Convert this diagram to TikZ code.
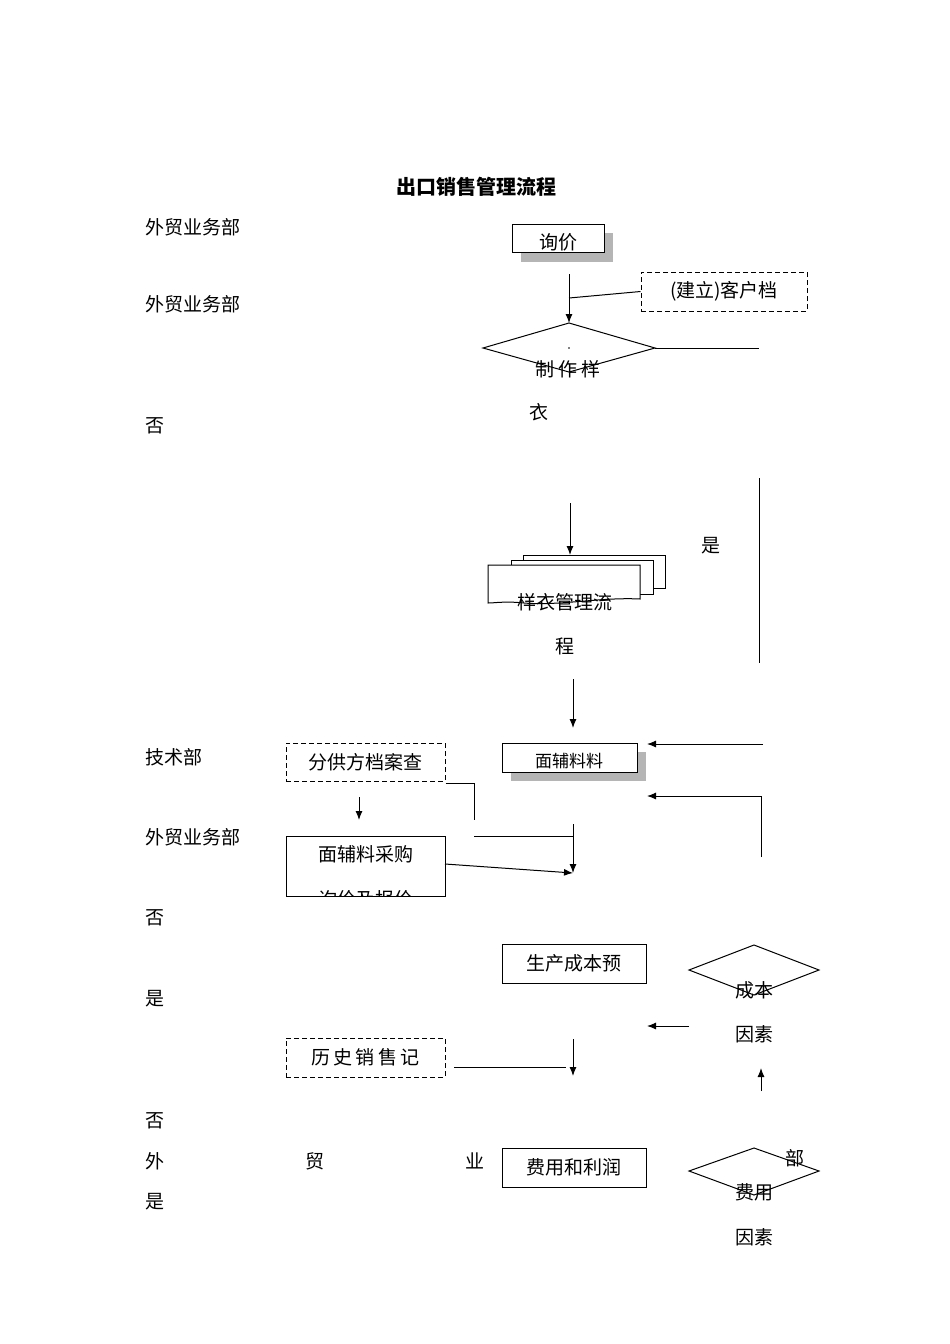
\documentclass[tikz,border=0pt]{standalone}
\usepackage{fontspec}
\newfontfamily\cjk{Noto Sans CJK SC}
\usetikzlibrary{arrows.meta,shapes.geometric}
\begin{document}
\begin{tikzpicture}[x=1pt,y=-1pt,
  t/.style={font=\cjk\fontsize{19}{19}\selectfont,inner sep=0pt},
  ln/.style={line width=1pt},
  ar/.style={line width=1pt,-{Latex[length=9pt,width=7pt]}},
  bx/.style={draw,line width=1pt,fill=white},
  dbx/.style={draw,line width=1pt,dashed,dash pattern=on 5pt off 3pt},
  sh/.style={fill=gray!95!black!55}]
\useasboundingbox (0,0) rectangle (950,1344);
\node[t,font=\cjk\bfseries\fontsize{20}{20}\selectfont] (title) at (476,187) {出口销售管理流程};
% left labels
\foreach \n/\y/\s in {l1/227/外贸业务部,l2/304/外贸业务部,l3/426/否,l4/757/技术部,l5/837/外贸业务部,l6/918/否,l7/999/是,l8/1121/否,l9/1161/外,l10/1202/是}
  \node[t,anchor=west] (\n) at (145,\y) {\s};
\node[t] (m1) at (315,1161) {贸};
\node[t] (m2) at (475,1161) {业};
\node[t] (m3) at (795,1158) {部};
% 询价
\fill[sh] (521,233) rectangle (613,262);
\draw[bx] (512,224) rectangle (604,252);
\begin{scope}\clip (512,224) rectangle (604,252);
\node[t] (xj) at (558,242) {询价};\end{scope}
\node[dbx,minimum width=166pt,minimum height=39pt,t] (kh) at (724,291.5) {(建立)客户档};
\coordinate (a0) at (569,274);
\coordinate (a1) at (569,298);
\draw[ln] (a1) -- (kh.west);
\node[draw,diamond,line width=1pt,minimum width=0pt,inner sep=0pt,
  minimum size=0pt] (d1) at (569,348) {};
\draw[ln] (483,348) coordinate (d1l) -- (569,323) coordinate (d1t) -- (655,348) coordinate (d1r) -- (569,372) -- cycle;
\draw[ar] (a0) -- (d1t);
\coordinate (d1e) at (759,348);
\draw[ln] (d1r) -- (d1e);
\node[t] (zz) at (568,369) {制 作 样};
\node[t] (yi) at (539,412) {衣};
\coordinate (v1) at (759,478); \coordinate (v2) at (759,663);
\draw[ln] (v1) -- (v2);
\node[t] (shi) at (711,546) {是};
% stacked doc
\draw[bx] (523,555) rectangle (665,588);
\draw[bx] (511,560) rectangle (653,594);
\draw[bx] (488,565) -- (640,565) -- (640,599) .. controls (600,597) and (560,606) .. (524,603) .. controls (505,601) and (495,603) .. (488,603) -- cycle;
\coordinate (sd) at (570,555);
\coordinate (s0) at (570,503);
\draw[ar] (s0) -- (sd);
\node[t] (yg) at (565,602) {样衣管理流};
\node[t] (ch) at (565,646) {程};
% 面辅料料
\fill[sh] (511,752) rectangle (646,781);
\draw[bx] (502,743) rectangle (637,772);
\begin{scope}\clip (502,743) rectangle (637,772);
\node[t,font=\cjk\fontsize{17}{17}\selectfont] (mf) at (569,761) {面辅料料};\end{scope}
\coordinate (m0) at (573,679); \coordinate (mt) at (573,743);
\draw[ar] (m0) -- (573,728);
\coordinate (r1) at (763,744); \coordinate (r1e) at (647,744);
\draw[ar] (r1) -- (r1e);
\coordinate (r2) at (761,857); \coordinate (r2e) at (647,796);
\draw[ar] (r2) |- (r2e);
% 分供方
\node[dbx,minimum width=159pt,minimum height=38pt,t] (fg) at (365.5,762) {分供方档案查};
\coordinate (fg1) at (474,820);
\draw[ln] (fg.south east) ++(0,2) -| (fg1);
\coordinate (p0) at (359,797); \coordinate (p1) at (359,820);
\draw[ar] (p0) -- (p1);
\draw[bx] (286,836) rectangle (445,896);
\begin{scope}\clip (286,836) rectangle (445,896);
\node[t] (cg1) at (366,854) {面辅料采购};
\node[t] (cg2) at (366,899) {询价及报价};\end{scope}
\coordinate (cgE) at (445,864);
\coordinate (j1) at (474,836); \coordinate (j2) at (573,836);
\draw[ln] (j1) -- (j2);
\coordinate (j3) at (573,824); \coordinate (j4) at (573,873);
\draw[ar] (j3) -- (j4);
\draw[ar] (cgE) -- (j4);
% 生产成本预
\node[bx,t,minimum width=144pt,minimum height=39pt] (sc) at (574,963.5) {生产成本预};
\draw[ln] (689,970) -- (754,945) -- (819,970) -- (754,995) -- cycle;
\node[t] (cb) at (754,990) {成本};
\node[t] (ys1) at (754,1034) {因素};
\coordinate (c1) at (689,1026); \coordinate (c2) at (647,1026);
\draw[ar] (c1) -- (c2);
\node[dbx,t,minimum width=159pt,minimum height=39pt] (ls) at (365.5,1057.5) {历\,史\,销\,售\,记};
\coordinate (h1) at (454,1067); \coordinate (h2) at (573,1076);
\draw[ln] (h1) -- (566,1067);
\draw[ar] (573,1039) -- (h2);
\coordinate (u1) at (761,1091); \coordinate (u2) at (761,1068);
\draw[ar] (u1) -- (u2);
% 费用和利润
\node[bx,t,minimum width=144pt,minimum height=39pt] (fy) at (574,1167.5) {费用和利润};
\draw[ln] (689,1171) -- (754,1148) -- (819,1171) -- (754,1195) -- cycle;
\node[t] (fy2) at (754,1192) {费用};
\node[t] (ys2) at (754,1237) {因素};
\end{tikzpicture}
\end{document}
